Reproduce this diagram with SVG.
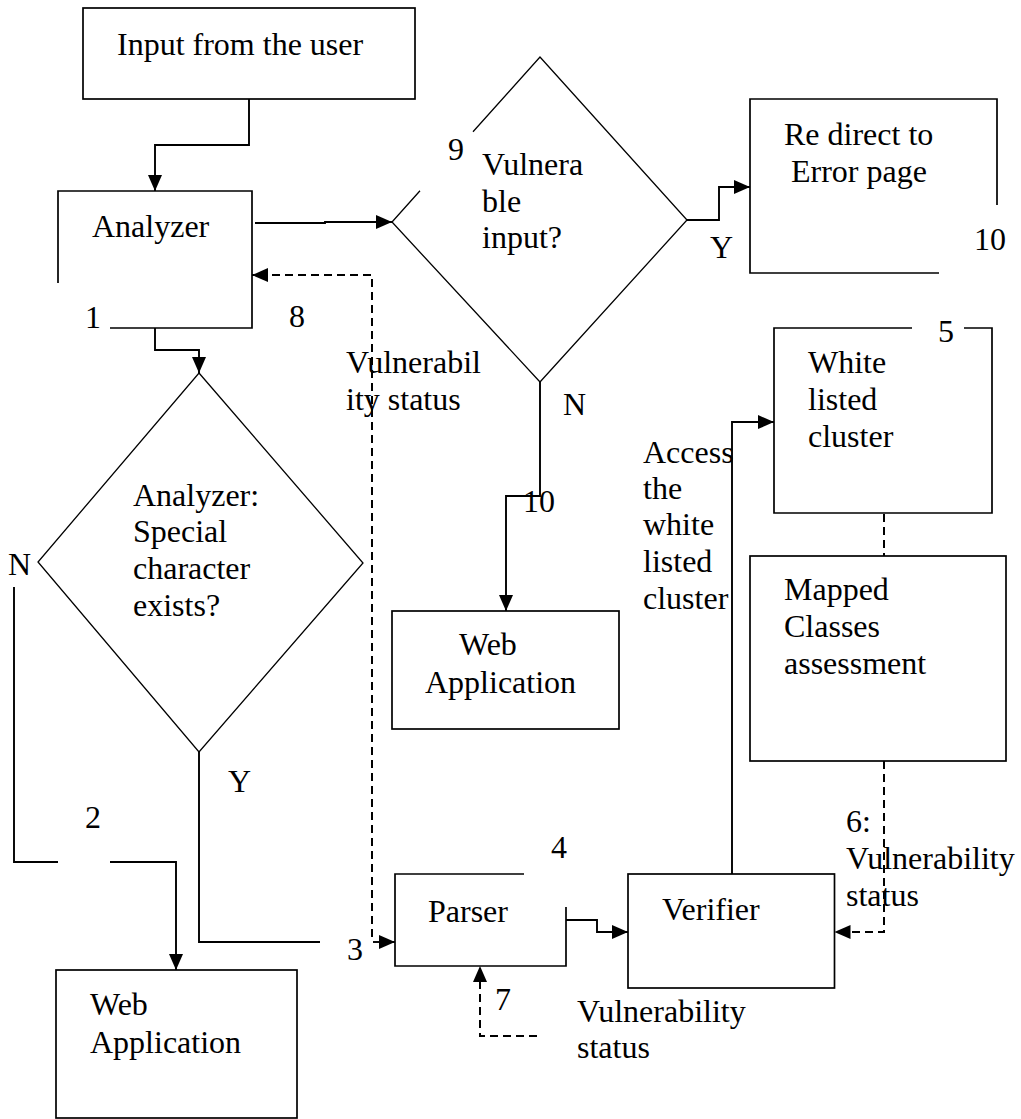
<svg xmlns="http://www.w3.org/2000/svg" width="1021" height="1119" viewBox="0 0 1021 1119" font-family="'Liberation Serif', 'Times New Roman', 'DejaVu Serif', serif" font-size="32">
  <style>
    .box { fill: none; stroke: #000; stroke-width: 1.7; }
    .dia { fill: none; stroke: #000; stroke-width: 1.3; }
    .link { fill: none; stroke: #000; stroke-width: 1.9; }
    .dash { fill: none; stroke: #000; stroke-width: 2; stroke-dasharray: 8 5; }
    text { font-family: 'Liberation Serif', 'Times New Roman', 'DejaVu Serif', serif; font-size: 32px; fill: #000; }
  </style>
  <defs>
    <marker id="arrow" viewBox="0 0 16 14" refX="16" refY="7" markerWidth="16" markerHeight="14" markerUnits="userSpaceOnUse" orient="auto">
      <path d="M0,0 L16,7 L0,14 Z" fill="#000"/>
    </marker>
  </defs>
  <rect width="1021" height="1119" fill="#fff"/>

  <!-- nodes -->
  <g id="input">
    <rect class="box" x="83" y="8" width="332" height="91"/>
    <text x="117" y="55">Input from the user</text>
  </g>

  <g id="analyzer">
    <path class="box" d="M58,283 V191 H252 V328 H110"/>
    <text x="92" y="237">Analyzer</text>
    <text x="85" y="328">1</text>
  </g>

  <g id="vulnerable-decision">
    <path class="dia" d="M473,131.7 L540,57 L687,220 L540,382 L392,222 L420,190.8"/>
    <text x="448" y="160">9</text>
    <text x="482" y="175">Vulnera</text>
    <text x="482" y="212">ble</text>
    <text x="482" y="248">input?</text>
  </g>

  <g id="error-page">
    <path class="box" d="M939,273 H750 V99 H997 V205"/>
    <text x="784" y="145">Re direct to</text>
    <text x="791" y="182">Error page</text>
    <text x="974" y="250">10</text>
  </g>

  <g id="special-char-decision">
    <path class="dia" d="M199,373 L363,563 L199,752 L38,562 Z"/>
    <text x="133" y="506">Analyzer:</text>
    <text x="133" y="542">Special</text>
    <text x="133" y="579">character</text>
    <text x="133" y="616">exists?</text>
  </g>

  <g id="web-app-mid">
    <rect class="box" x="392" y="611" width="227" height="118"/>
    <text x="459" y="655">Web</text>
    <text x="425" y="693">Application</text>
  </g>

  <g id="white-listed">
    <path class="box" d="M912,328 H774 V513 H992 V328 H964"/>
    <text x="938" y="342">5</text>
    <text x="808" y="373">White</text>
    <text x="808" y="410">listed</text>
    <text x="808" y="447">cluster</text>
  </g>

  <g id="mapped-classes">
    <rect class="box" x="750" y="556" width="256" height="205"/>
    <text x="784" y="600">Mapped</text>
    <text x="784" y="637">Classes</text>
    <text x="784" y="674">assessment</text>
  </g>

  <g id="parser">
    <path class="box" d="M524,874 H395 V966 H566 V907"/>
    <text x="428" y="922">Parser</text>
    <text x="551" y="858">4</text>
  </g>

  <g id="verifier">
    <rect class="box" x="628" y="874" width="206.5" height="114"/>
    <text x="662" y="920">Verifier</text>
  </g>

  <g id="web-app-bottom">
    <rect class="box" x="56" y="970" width="241" height="148"/>
    <text x="90" y="1015">Web</text>
    <text x="90" y="1053">Application</text>
  </g>

  <!-- connectors -->
  <g id="connectors">
    <path class="link" d="M249,99 V145 H155 V191" marker-end="url(#arrow)"/>
    <path class="link" d="M255,223 H325 V222 H392" marker-end="url(#arrow)"/>
    <path class="link" d="M687,220 H719 V187 H750" marker-end="url(#arrow)"/>
    <path class="link" d="M540,382 V496 H506 V611" marker-end="url(#arrow)"/>
    <path class="link" d="M155,328 V350 H199 V373" marker-end="url(#arrow)"/>
    <path class="link" d="M14,587 V862 H58"/>
    <path class="link" d="M110,862 H176 V970" marker-end="url(#arrow)"/>
    <path class="link" d="M199,752 V942 H320"/>
    <path class="link" d="M373,942 H395" marker-end="url(#arrow)"/>
    <path class="link" d="M566,920 H597 V932 H628" marker-end="url(#arrow)"/>
    <path class="link" d="M732,874 V422 H774" marker-end="url(#arrow)"/>
    <path class="dash" d="M372,937 V275 H252" marker-end="url(#arrow)"/>
    <path class="dash" d="M884,514 V556"/>
    <path class="dash" d="M884,761 V932 H834.5" marker-end="url(#arrow)"/>
    <path class="dash" d="M537,1036 H480 V966" marker-end="url(#arrow)"/>
  </g>

  <!-- connector labels -->
  <g id="labels">
    <text x="289" y="327">8</text>
    <text x="346" y="373">Vulnerabil</text>
    <text x="346" y="410">ity status</text>
    <text x="710" y="258">Y</text>
    <text x="563" y="415">N</text>
    <text x="523" y="512">10</text>
    <text x="643" y="463">Access</text>
    <text x="643" y="499">the</text>
    <text x="643" y="535">white</text>
    <text x="643" y="572">listed</text>
    <text x="643" y="609">cluster</text>
    <text x="8" y="575">N</text>
    <text x="228" y="792">Y</text>
    <text x="85" y="828">2</text>
    <text x="347" y="960">3</text>
    <text x="495" y="1010">7</text>
    <text x="577" y="1022">Vulnerability</text>
    <text x="577" y="1058">status</text>
    <text x="846" y="832">6:</text>
    <text x="846" y="869">Vulnerability</text>
    <text x="846" y="906">status</text>
  </g>
</svg>
